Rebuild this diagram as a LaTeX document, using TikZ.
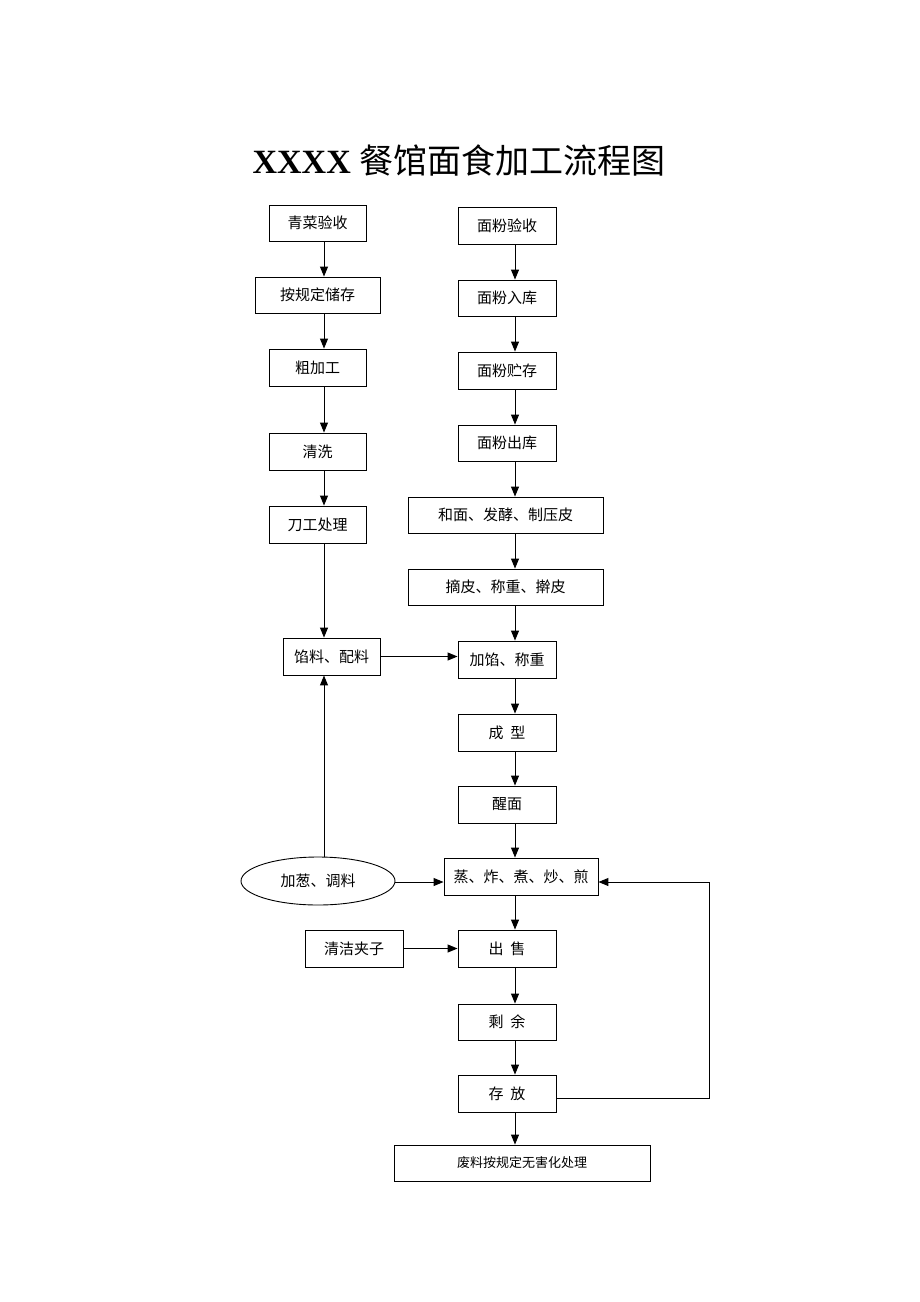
\documentclass[tikz,border=0pt]{standalone}
\usepackage{fontspec}
\setmainfont{Liberation Serif}
\newfontfamily\cjk{Noto Sans CJK SC}
\usetikzlibrary{arrows.meta,shapes.geometric}
\begin{document}
\begin{tikzpicture}[x=1pt,y=-1pt,
  box/.style={draw,line width=0.9pt,inner sep=0pt,font=\cjk\fontsize{15}{15}\selectfont},
  arr/.style={line width=1pt,-{Triangle[length=10pt,width=8pt]}},
  ln/.style={line width=1pt}]
\useasboundingbox (0,0) rectangle (920,1302);
\node[anchor=center] (title) at (459,160) {\fontsize{34}{34}\selectfont\textbf{XXXX} {\cjk 餐馆面食加工流程图}};
% left column
\node[box,minimum width=97pt,minimum height=36pt] (l1) at (317.5,223) {青菜验收};
\node[box,minimum width=125pt,minimum height=36pt] (l2) at (317.5,295) {按规定储存};
\node[box,minimum width=97pt,minimum height=37pt] (l3) at (317.5,367.5) {粗加工};
\node[box,minimum width=97pt,minimum height=37pt] (l4) at (317.5,451.5) {清洗};
\node[box,minimum width=97pt,minimum height=37pt] (l5) at (317.5,524.5) {刀工处理};
\node[box,minimum width=97pt,minimum height=37pt] (l6) at (331.5,656.5) {馅料、配料};
\node[draw,line width=0.9pt,ellipse,minimum width=154pt,minimum height=48pt,inner sep=0pt,font=\cjk\fontsize{15}{15}\selectfont] (el) at (318,881) {加葱、调料};
\node[box,minimum width=98pt,minimum height=37pt] (cj) at (354,948.5) {清洁夹子};
% right column
\node[box,minimum width=98pt,minimum height=37pt] (r1) at (507,225.5) {面粉验收};
\node[box,minimum width=98pt,minimum height=36pt] (r2) at (507,298) {面粉入库};
\node[box,minimum width=98pt,minimum height=37pt] (r3) at (507,370.5) {面粉贮存};
\node[box,minimum width=98pt,minimum height=36pt] (r4) at (507,443) {面粉出库};
\node[box,minimum width=195pt,minimum height=36pt] (r5) at (505.5,515) {和面、发酵、制压皮};
\node[box,minimum width=195pt,minimum height=36pt] (r6) at (505.5,587) {摘皮、称重、擀皮};
\node[box,minimum width=98pt,minimum height=37pt] (r7) at (507,659.5) {加馅、称重};
\node[box,minimum width=98pt,minimum height=37pt] (r8) at (507,732.5) {成\ \ 型};
\node[box,minimum width=98pt,minimum height=37pt] (r9) at (507,804.5) {醒面};
\node[box,minimum width=154pt,minimum height=37pt] (r10) at (521,876.5) {蒸、炸、煮、炒、煎};
\node[box,minimum width=98pt,minimum height=37pt] (r11) at (507,948.5) {出\ \ 售};
\node[box,minimum width=98pt,minimum height=36pt] (r12) at (507,1022) {剩\ \ 余};
\node[box,minimum width=98pt,minimum height=37pt] (r13) at (507,1093.5) {存\ \ 放};
\node[box,minimum width=256pt,minimum height=36pt,font=\cjk\fontsize{13}{13}\selectfont] (r14) at (522,1163) {废料按规定无害化处理};
% left arrows
\draw[arr] (l1.south -| 324,0) -- (l2.north -| 324,0);
\draw[arr] (l2.south -| 324,0) -- (l3.north -| 324,0);
\draw[arr] (l3.south -| 324,0) -- (l4.north -| 324,0);
\draw[arr] (l4.south -| 324,0) -- (l5.north -| 324,0);
\draw[arr] (l5.south -| 324,0) -- (l6.north -| 324,0);
\draw[arr] (el.north -| 324,0) -- (l6.south -| 324,0);
% right arrows
\draw[arr] (r1.south -| 515,0) -- (r2.north -| 515,0);
\draw[arr] (r2.south -| 515,0) -- (r3.north -| 515,0);
\draw[arr] (r3.south -| 515,0) -- (r4.north -| 515,0);
\draw[arr] (r4.south -| 515,0) -- (r5.north -| 515,0);
\draw[arr] (r5.south -| 515,0) -- (r6.north -| 515,0);
\draw[arr] (r6.south -| 515,0) -- (r7.north -| 515,0);
\draw[arr] (r7.south -| 515,0) -- (r8.north -| 515,0);
\draw[arr] (r8.south -| 515,0) -- (r9.north -| 515,0);
\draw[arr] (r9.south -| 515,0) -- (r10.north -| 515,0);
\draw[arr] (r10.south -| 515,0) -- (r11.north -| 515,0);
\draw[arr] (r11.south -| 515,0) -- (r12.north -| 515,0);
\draw[arr] (r12.south -| 515,0) -- (r13.north -| 515,0);
\draw[arr] (r13.south -| 515,0) -- (r14.north -| 515,0);
% horizontal arrows
\draw[arr] (l6.east) -- (r7.west |- l6.east);
\draw[arr] (el.east |- 0,882) -- (r10.west |- 0,882);
\draw[arr] (cj.east) -- (r11.west);
% feedback
\coordinate (fb1) at (709,1098);
\coordinate (fb2) at (709,882);
\draw[arr] (r13.east |- fb1) -- (fb1) -- (fb2) -- (r10.east |- fb2);
\end{tikzpicture}
\end{document}
